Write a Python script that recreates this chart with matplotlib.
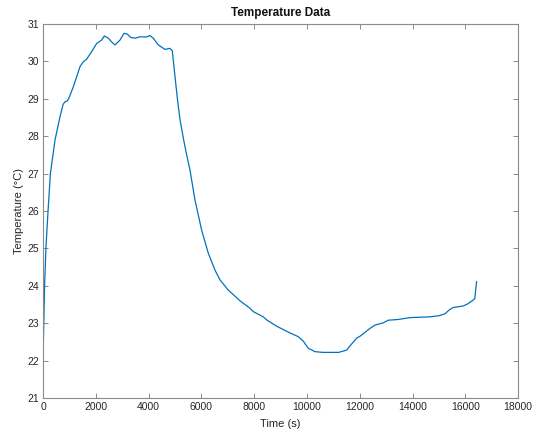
import matplotlib
matplotlib.use("Agg")
import matplotlib.pyplot as plt

# values
time_s = [0, 30, 60, 110, 190, 280, 455, 644, 760, 833, 920, 1000, 1148, 1280, 1402,
          1527, 1654, 1843, 2033, 2222, 2323, 2475, 2600, 2727, 2917, 3068, 3194,
          3321, 3500, 3674, 3902, 4053, 4179, 4369, 4621, 4811, 4899, 5000, 5100,
          5189, 5316, 5442, 5568, 5758, 6010, 6263, 6515, 6705, 7000, 7462, 7841,
          7967, 8346, 8472, 8851, 9356, 9672, 9861, 10051, 10303, 10600, 10871,
          11200, 11503, 11629, 11882, 12008, 12386, 12576, 12891, 13081, 13460,
          13902, 14300, 14659, 15000, 15227, 15400, 15543, 15922, 16100, 16301,
          16360, 16427]
temp_c = [22.1, 23.0, 24.0, 25.0, 26.0, 27.0, 27.9, 28.52, 28.85, 28.92, 28.94, 29.05,
          29.32, 29.6, 29.86, 29.99, 30.06, 30.26, 30.48, 30.57, 30.68, 30.62,
          30.52, 30.44, 30.57, 30.75, 30.73, 30.64, 30.62, 30.66, 30.65, 30.69,
          30.62, 30.44, 30.32, 30.35, 30.28, 29.6, 28.95, 28.45, 27.95, 27.5, 27.1,
          26.29, 25.49, 24.87, 24.42, 24.16, 23.9, 23.6, 23.4, 23.31, 23.17, 23.09,
          22.92, 22.74, 22.64, 22.52, 22.33, 22.24, 22.22, 22.22, 22.22, 22.28,
          22.39, 22.6, 22.65, 22.86, 22.95, 23.01, 23.08, 23.1, 23.15, 23.16, 23.17,
          23.2, 23.25, 23.36, 23.42, 23.46, 23.52, 23.62, 23.66, 24.11]

x_ticks = list(range(0, 18001, 2000))
y_ticks = list(range(21, 32))

plt.rcParams["font.family"] = ["Liberation Sans", "DejaVu Sans"]

fig = plt.figure(figsize=(5.33, 4.33), dpi=100)
ax = fig.add_axes([0.0807, 0.0808, 0.8913, 0.8638])

ax.plot(time_s, temp_c, color="#0072BD", linewidth=0.9)

ax.set_xlim(0, 18000)
ax.set_ylim(21, 31)
ax.set_xticks(x_ticks)
ax.set_yticks(y_ticks)

ax.set_title("Temperature Data", fontsize=8.5, fontweight="bold", color="#111111", pad=6)
ax.set_xlabel("Time (s)", fontsize=8, color="#262626", labelpad=5)
ax.set_ylabel("Temperature (°C)", fontsize=8, color="#262626", labelpad=2)

for s in ax.spines.values():
    s.set_color("#8a8a8a")
    s.set_linewidth(0.8)
ax.tick_params(direction="in", length=3.5, width=0.7, color="#8a8a8a",
               labelsize=7.5, labelcolor="#262626", top=True, right=True, pad=3)

fig.savefig("out.png", dpi=100)
